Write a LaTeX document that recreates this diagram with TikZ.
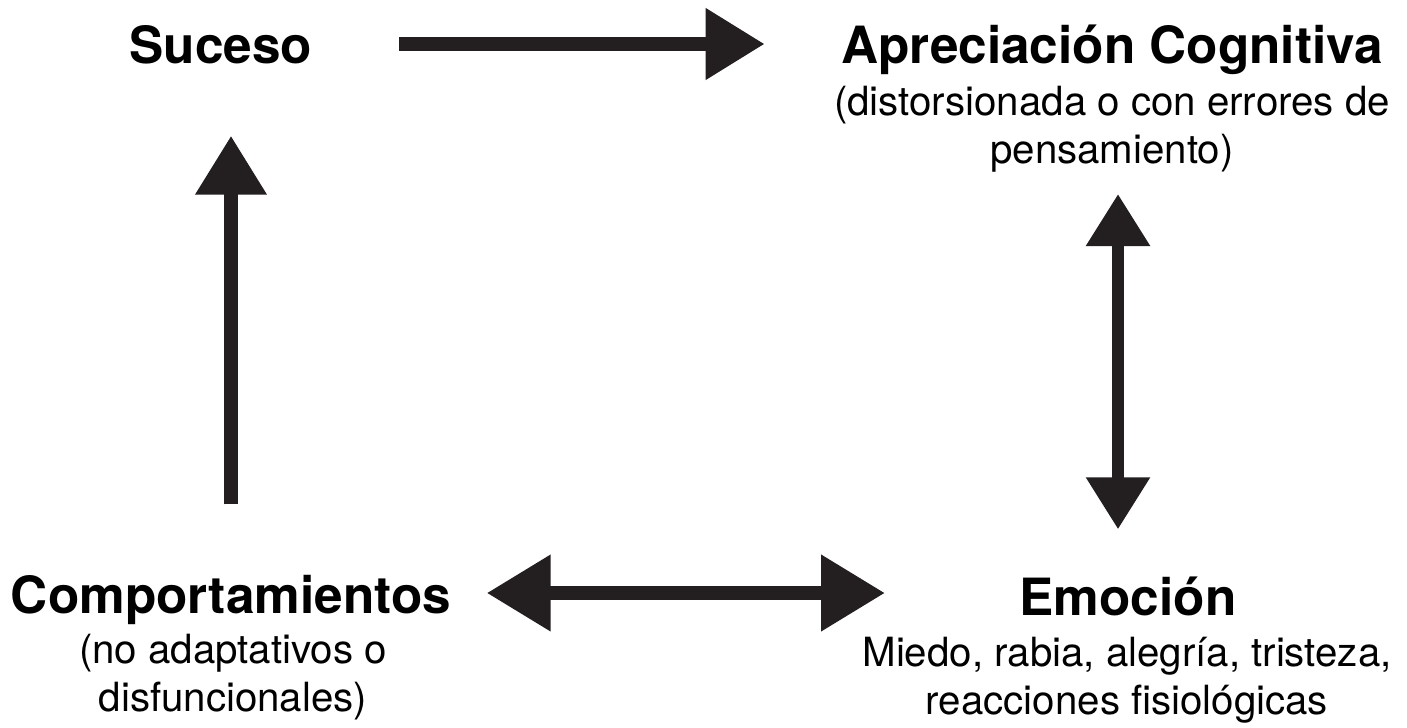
\documentclass[tikz,border=0pt]{standalone}
\usepackage{fontspec}
\setmainfont{TeX Gyre Heros}
\usetikzlibrary{arrows.meta, positioning, calc}
\definecolor{flechagris}{HTML}{231F20}
\tikzset{
	titulo/.style = {font=\fontsize{14.6}{17.5}\selectfont\bfseries, inner sep=0pt, text height=0.4cm, text depth=0pt},
	subtitulo/.style = {font=\fontsize{11.45}{13.66}\selectfont, inner sep=0pt, align=center},
	flecha/.style = {color=flechagris, line width=3.98pt, -{Triangle[length=16.8pt, width=19.35pt]}},
	dobleh/.style = {color=flechagris, line width=3.98pt, {Triangle[length=18.2pt, width=20.8pt]}-{Triangle[length=18.2pt, width=20.8pt]}},
	doblev/.style = {color=flechagris, line width=3.4pt, {Triangle[length=14.8pt, width=17.4pt]}-{Triangle[length=14.8pt, width=17.4pt]}}
}
\begin{document}
\begin{tikzpicture}
	
	\useasboundingbox (0,0) rectangle (14.07,7.27);
	
	\node [titulo, anchor=base] (suceso) at (2.21,6.63) {Suceso};
	\node [titulo, anchor=base] (apreciacion) at (11.12,6.63) {Apreciación Cognitiva};
	\node [subtitulo, anchor=north] (apsub) at (11.12,6.415) {(distorsionada o con errores de\\pensamiento)};
	\node [titulo, anchor=base] (comport) at (2.31,1.14) {Comportamientos};
	\node [subtitulo, anchor=north] (compsub) at (2.33,0.94) {(no adaptativos o\\disfuncionales)};
	\node [titulo, anchor=base] (emocion) at (11.28,1.12) {Emoción};
	\node [subtitulo, anchor=north] (emosub) at (11.27,0.91) {Miedo, rabia, alegría, tristeza,\\reacciones fisiológicas};
	
	% ciclo
	\draw [flecha, shorten <=0.86cm, shorten >=0.76cm] (suceso.east) -- (apreciacion.west);
	\draw [doblev, shorten <=0.21cm, shorten >=0.45cm] ([xshift=0.06cm]apsub.south) -- ([xshift=0.06cm]apsub.south |- emocion.north);
	\draw [dobleh, shorten <=0.35cm, shorten >=1.34cm] (comport.east) -- (comport.east -| emocion.west);
	\draw [flecha, shorten <=0.68cm, shorten >=0.71cm] (comport.north) -- (comport.north |- suceso.south);
	
\end{tikzpicture}
\end{document}
